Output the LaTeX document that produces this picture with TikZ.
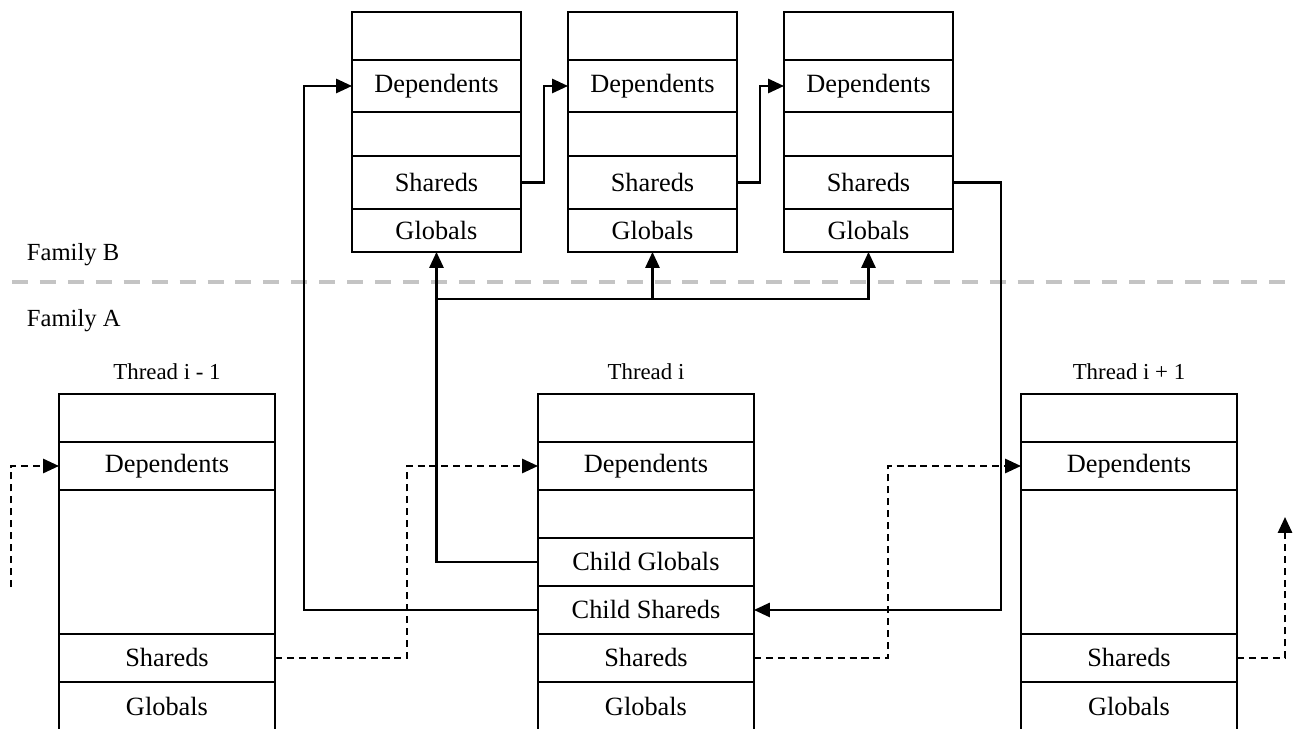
\documentclass[tikz,border=0pt]{standalone}
\usepackage{fontspec}
\setmainfont{Liberation Serif}
\usepackage{xcolor}
\usetikzlibrary{arrows.meta, positioning}
\definecolor{sepgray}{RGB}{196, 196, 196}

\begin{document}
\begin{tikzpicture}[
  x=0.02cm, y=-0.02cm,
  every node/.style={inner sep=0pt, outer sep=0pt},
  cell/.style={draw, line width=1.3pt, minimum height=0.96cm,
    font=\fontsize{15}{18}\selectfont},
  famcell/.style={cell, minimum width=3.38cm},
  thrcell/.style={cell, minimum width=4.32cm},
  thrlabel/.style={font=\fontsize{13}{16}\selectfont},
  famlabel/.style={font=\fontsize{14}{17}\selectfont, anchor=west},
  arrow/.style={-{Triangle[length=9pt, width=8pt]}, line width=1.3pt},
  dasharrow/.style={arrow, dash pattern=on 4pt off 2.8pt},
  sepline/.style={draw=sepgray, line width=2.3pt, dash pattern=on 9.1pt off 6.8pt}
]
  \useasboundingbox (0,0) rectangle (1297,728);

  % Family B: tre frame in alto
  \foreach \i/\x in {1/352, 2/568, 3/784} {
    \node[famcell, anchor=north west] (btop\i) at (\x,12) {};
    \node[famcell, below=0pt of btop\i, minimum height=1.04cm] (bdep\i) {Dependents};
    \node[famcell, below=0pt of bdep\i, minimum height=0.88cm] (bgap\i) {};
    \node[famcell, below=0pt of bgap\i, minimum height=1.06cm] (bsh\i) {Shareds};
    \node[famcell, below=0pt of bsh\i, minimum height=0.86cm] (bgl\i) {Globals};
  }

  % Separatore tra le famiglie
  \coordinate (sepL) at (12,282);
  \coordinate (sepR) at (1297,282);
  \draw[sepline] (sepL) -- (sepR);
  \node[famlabel] (famB) at (27,255) {Family B};
  \node[famlabel] (famA) at (27,321) {Family A};

  % Thread i - 1
  \node[thrcell, anchor=north west] (t0top) at (59,394) {};
  \node[thrcell, below=0pt of t0top] (t0dep) {Dependents};
  \node[thrcell, below=0pt of t0dep, minimum height=2.88cm] (t0gap) {};
  \node[thrcell, below=0pt of t0gap] (t0sh) {Shareds};
  \node[thrcell, below=0pt of t0sh, minimum height=1.0cm] (t0gl) {Globals};
  \node[thrlabel, above=8pt of t0top] (t0lbl) {Thread i - 1};

  % Thread i
  \node[thrcell, anchor=north west] (t1top) at (538,394) {};
  \node[thrcell, below=0pt of t1top] (t1dep) {Dependents};
  \node[thrcell, below=0pt of t1dep] (t1gap) {};
  \node[thrcell, below=0pt of t1gap] (t1cgl) {Child Globals};
  \node[thrcell, below=0pt of t1cgl] (t1csh) {Child Shareds};
  \node[thrcell, below=0pt of t1csh] (t1sh) {Shareds};
  \node[thrcell, below=0pt of t1sh, minimum height=1.0cm] (t1gl) {Globals};
  \node[thrlabel, above=8pt of t1top] (t1lbl) {Thread i};

  % Thread i + 1
  \node[thrcell, anchor=north west] (t2top) at (1021,394) {};
  \node[thrcell, below=0pt of t2top] (t2dep) {Dependents};
  \node[thrcell, below=0pt of t2dep, minimum height=2.88cm] (t2gap) {};
  \node[thrcell, below=0pt of t2gap] (t2sh) {Shareds};
  \node[thrcell, below=0pt of t2sh, minimum height=1.0cm] (t2gl) {Globals};
  \node[thrlabel, above=8pt of t2top] (t2lbl) {Thread i + 1};

  % Catena degli Shareds nella famiglia B
  \draw[arrow] (t1csh.west) -- ++(-234,0) |- (bdep1.west);
  \draw[arrow] (bsh1.east) -- ++(23,0) |- (bdep2.west);
  \draw[arrow] (bsh2.east) -- ++(23,0) |- (bdep3.west);
  \draw[arrow] (bsh3.east) -- ++(48,0) |- (t1csh.east);

  % Globals condivisi
  \coordinate (gjoin) at (436,299);
  \draw[arrow] (t1cgl.west) -| (bgl1.south);
  \draw[arrow] (gjoin) -| (bgl3.south);
  \draw[arrow] (gjoin -| bgl2.south) -- (bgl2.south);

  % Catena tratteggiata tra i thread
  \coordinate (lin) at (11,587);
  \coordinate (rout) at (1285,517);
  \draw[dasharrow] (lin) |- (t0dep.west);
  \draw[dasharrow] (t0sh.east) -- ++(132,0) |- (t1dep.west);
  \draw[dasharrow] (t1sh.east) -- ++(134,0) |- (t2dep.west);
  \draw[dasharrow] (t2sh.east) -| (rout);

\end{tikzpicture}
\end{document}
